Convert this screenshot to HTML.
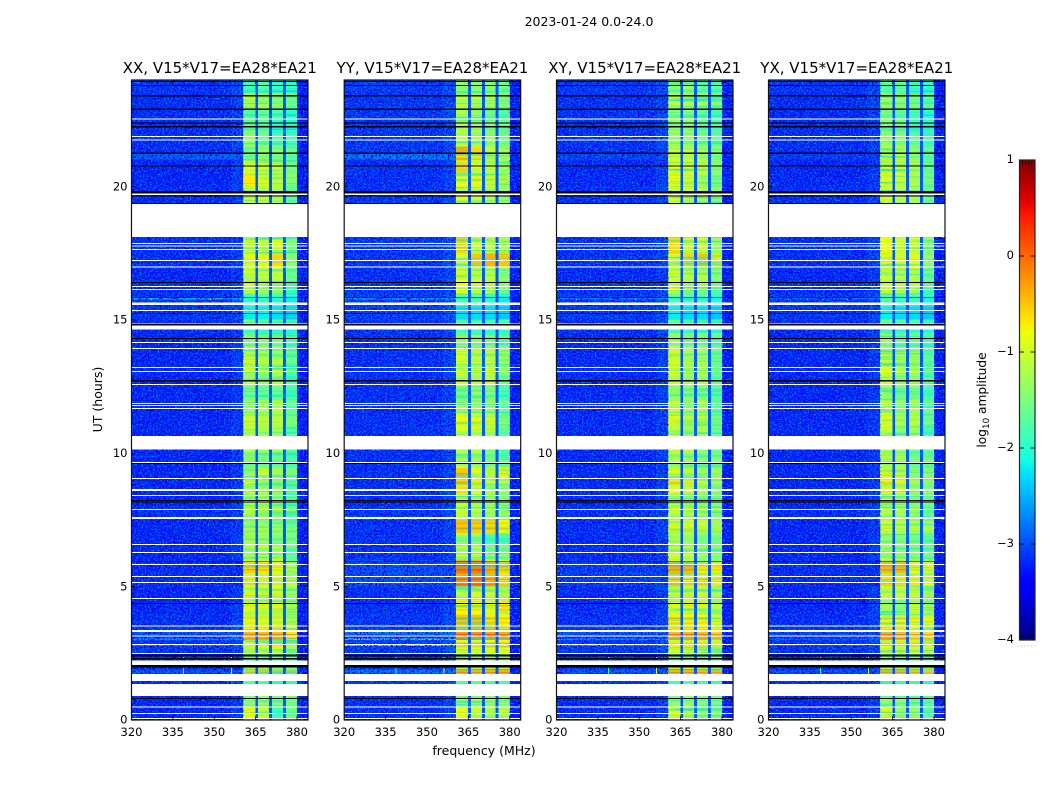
<!DOCTYPE html>
<html lang="en">
<head>
<meta charset="utf-8">
<title>Amplitude waterfall 2023-01-24</title>
<style>
html,body{margin:0;padding:0;background:#fff;width:1050px;height:800px;overflow:hidden}
svg{display:block}
text{font-family:"DejaVu Sans","Liberation Sans",sans-serif;fill:#000}
</style>
</head>
<body>
<svg id="figure" xmlns="http://www.w3.org/2000/svg" width="1050" height="800" viewBox="0 0 1050 800">
<defs>
<filter id="lightSpeck0" x="0" y="0" width="100%" height="100%" color-interpolation-filters="sRGB"><feTurbulence type="fractalNoise" baseFrequency="0.62" numOctaves="2" seed="3"/><feColorMatrix type="matrix" values="0 0 0 0 0  0 0 0 0 0.5  0 0 0 0 1  7 0 0 0 -3.85"/></filter>
<filter id="lightSpeck1" x="0" y="0" width="100%" height="100%" color-interpolation-filters="sRGB"><feTurbulence type="fractalNoise" baseFrequency="0.62" numOctaves="2" seed="11"/><feColorMatrix type="matrix" values="0 0 0 0 0  0 0 0 0 0.5  0 0 0 0 1  7 0 0 0 -3.85"/></filter>
<filter id="lightSpeck2" x="0" y="0" width="100%" height="100%" color-interpolation-filters="sRGB"><feTurbulence type="fractalNoise" baseFrequency="0.62" numOctaves="2" seed="23"/><feColorMatrix type="matrix" values="0 0 0 0 0  0 0 0 0 0.5  0 0 0 0 1  7 0 0 0 -3.85"/></filter>
<filter id="lightSpeck3" x="0" y="0" width="100%" height="100%" color-interpolation-filters="sRGB"><feTurbulence type="fractalNoise" baseFrequency="0.62" numOctaves="2" seed="37"/><feColorMatrix type="matrix" values="0 0 0 0 0  0 0 0 0 0.5  0 0 0 0 1  7 0 0 0 -3.85"/></filter>
<filter id="darkSpeck" x="0" y="0" width="100%" height="100%" color-interpolation-filters="sRGB"><feTurbulence type="fractalNoise" baseFrequency="0.58" numOctaves="2" seed="51"/><feColorMatrix type="matrix" values="0 0 0 0 0  0 0 0 0 0  0 0 0 0 0.85  7 0 0 0 -3.4"/></filter>
<filter id="bandStreak" x="0" y="0" width="100%" height="100%" color-interpolation-filters="sRGB"><feTurbulence type="fractalNoise" baseFrequency="0.012 0.42" numOctaves="2" seed="7"/><feColorMatrix type="matrix" values="0 0 0 0 0.15  0 0 0 0 0.9  0 0 0 0 0.7  2.6 0 0 0 -1.25"/></filter>
<linearGradient id="colorbarGradient" x1="0" y1="1" x2="0" y2="0"></linearGradient>
</defs>
<text x="589" y="26" font-size="12.5" text-anchor="middle">2023-01-24 0.0-24.0</text>
<text x="484" y="755" font-size="12.5" text-anchor="middle">frequency (MHz)</text>
<text x="0" y="0" font-size="12.5" text-anchor="middle" transform="translate(102,399.5) rotate(-90)">UT (hours)</text>
<text x="0" y="0" font-size="12.2" text-anchor="middle" transform="translate(986,400) rotate(-90)">log<tspan font-size="8.8" dy="3">10</tspan><tspan dy="-3"> amplitude</tspan></text>
<g id="panels"></g>
<g id="colorbar"></g>
</svg>
<script>
// ---- Chart data (log10 amplitude, UT hours, MHz) ----
const panelTitles = ["XX, V15*V17=EA28*EA21", "YY, V15*V17=EA28*EA21", "XY, V15*V17=EA28*EA21", "YX, V15*V17=EA28*EA21"];
const freqTicks = [320, 335, 350, 365, 380];
const hourTicks = [0, 5, 10, 15, 20];
const colorTicks = [1, 0, -1, -2, -3, -4];
const bandStart = [360.5, 365.9, 371, 376];
const bandEnd = [364.9, 369.9, 374.9, 380.1];
const gapLevel = -2.95;
const rightEdgeLevel = -3.25;
const rowSpan = 0.5;

// one row per half hour, from UT 0; each row holds the four spectral-window levels
const levelsXX = [
[-.8,-1.1,-1.9,-1.6],[-1.4,-1.3,-1.5,-1.5],[-1.8,-1.8,-1.9,-1.9],[-1.3,-1.3,-1.4,-1.4],[-1.5,-1.6,-1.6,-1.7],[-1.2,-1.2,-1,-1.4],
[-.5,-.5,-.5,-.7],[-.95,-1,-1,-1.3],[-.95,-1,-1,-1.3],[-1,-1.1,-.95,-1.3],[-.85,-.95,-.9,-1.2],[-.6,-.65,-.85,-1.3],
[-1.3,-1.2,-1.2,-1.7],[-1.2,-1.3,-1.5,-1.5],[-1.4,-1.3,-1.4,-1.6],[-1.1,-1.1,-1.2,-1.5],[-1.3,-1.2,-1.4,-1.7],[-1.2,-1.3,-1.3,-1.7],
[-1.4,-1.1,-1.3,-1.5],[-1.4,-1.5,-1.6,-1.8],[-1.2,-1.3,-1.3,-1.7],[-1.1,-1.2,-1.2,-1.7],[-1,-1.1,-1.1,-1.5],[-1.2,-1.1,-1.1,-1.6],
[-1.5,-1.6,-1.6,-1.8],[-1.1,-1.3,-1.2,-1.8],[-1,-1.1,-1.1,-1.6],[-1.1,-1.2,-1.3,-1.6],[-1.4,-1.4,-1.5,-1.8],[-1.9,-2,-2,-2.1],
[-2.2,-2.2,-2.3,-2.4],[-2,-1.9,-2,-2.2],[-.9,-1.1,-1.2,-1.8],[-1,-1.1,-1.1,-1.6],[-.85,-.85,-.6,-1.4],[-1.05,-1.1,-.95,-1.5],
[-1,-1.1,-1,-1.5],[-1,-1.1,-1,-1.5],[-1,-1.1,-1.2,-1.7],[-1,-1.1,-1.2,-1.7],[-.7,-.95,-1.1,-1.4],[-.9,-1,-1.1,-1.5],
[-1.5,-1.3,-1.4,-1.6],[-1.3,-1.5,-1.7,-1.8],[-1.5,-1.6,-2,-2],[-1.7,-1.6,-1.8,-2],[-1.1,-1.2,-1.3,-1.5],[-1.9,-1.8,-2,-2]];
const levelsYY = [
[-.8,-1,-1.2,-1.1],[-1.4,-1.2,-1.3,-1.4],[-1.7,-1.7,-1.8,-1.8],[-1,-1,-1,-1],[-1.3,-1.3,-1.3,-1.3],[-.9,-.9,-.8,-.8],
[-.25,-.25,-.3,-.4],[-.5,-.5,-.7,-.8],[-.75,-.8,-.9,-.7],[-1.2,-1,-1.1,-1.2],[-.2,-.15,-.35,-.7],[-.1,-.1,-.4,-.6],
[-1.2,-1.2,-1.5,-1.5],[-1.3,-1.4,-1.8,-1.8],[-.5,-.55,-.6,-.8],[-1,-1.1,-1.2,-1.3],[-1.1,-1.2,-1.2,-1.4],[-.6,-.9,-1.2,-1.3],
[-.5,-.9,-1.1,-.9],[-1.3,-1.3,-1.5,-1.7],[-1.2,-1.1,-1.4,-1.8],[-.95,-1,-1.1,-1.6],[-.8,-.85,-.95,-1.5],[-1.1,-1.1,-1.3,-1.6],
[-1.5,-1.3,-1.4,-1.8],[-1,-1.1,-.95,-1.5],[-.9,-1,-.95,-1.3],[-1,-1.1,-1.1,-1.3],[-1.3,-1.4,-1.5,-1.7],[-1.9,-1.9,-2,-2],
[-2.3,-2.3,-2.3,-2.4],[-1.8,-1.8,-2,-2.2],[-.8,-1,-1.1,-1.4],[-1,-1.1,-1.1,-1.4],[-1,-.5,-.4,-.5],[-.6,-1,-1.1,-1.2],
[-.6,-1,-1.1,-1.2],[-.9,-1,-1.1,-1.3],[-.9,-1,-1.1,-1.3],[-.9,-1,-1.1,-1.3],[-.8,-.75,-1,-1.2],[-.6,-.9,-1.1,-1.3],
[-.35,-.6,-1.1,-1.2],[-1.1,-1.2,-1.3,-1.5],[-1.1,-1.2,-1.4,-1.5],[-1.2,-1.3,-1.5,-1.7],[-1.1,-1.1,-1.2,-1.4],[-1.3,-1.3,-1.4,-1.6]];
const levelsXY = [
[-.9,-1.1,-1.3,-1.4],[-1.4,-1.3,-1.4,-1.5],[-1.8,-1.8,-1.8,-1.9],[-1,-1,-1.1,-1.1],[-1.5,-1.5,-1.5,-1.5],[-1,-1,-1,-1.1],
[-.45,-.45,-.5,-.6],[-.75,-.8,-.8,-1],[-1,-.9,-1,-1.2],[-1.2,-1.1,-1.1,-1.3],[-.6,-.75,-.7,-.85],[-.4,-.45,-.75,-.75],
[-1.1,-1.2,-1.4,-1.5],[-1.2,-1.3,-1.5,-1.5],[-1,-.95,-1.1,-1.3],[-1,-1.1,-1.2,-1.3],[-1.1,-1.2,-1.3,-1.4],[-.8,-1,-1.2,-1.4],
[-1,-1.1,-1.3,-1.3],[-1.2,-1.3,-1.4,-1.4],[-1.1,-1.1,-1.4,-1.6],[-1,-1.2,-1.1,-1.6],[-.9,-1.1,-1.1,-1.5],[-1,-1.3,-1.1,-1.6],
[-1.3,-1.4,-1.5,-1.7],[-1,-1.2,-1.1,-1.6],[-.95,-1.1,-1.1,-1.5],[-1,-1.2,-1.2,-1.5],[-1.3,-1.5,-1.5,-1.7],[-1.9,-2,-2,-2.1],
[-2.2,-2.3,-2.3,-2.4],[-1.8,-1.9,-1.9,-2.1],[-.85,-1.1,-1.1,-1.5],[-1,-1.1,-1.1,-1.4],[-.95,-.6,-.5,-.7],[-.6,-1,-1,-1.3],
[-.6,-1,-1,-1.3],[-.95,-1,-1.1,-1.4],[-.95,-1,-1.1,-1.4],[-.95,-1,-1.1,-1.4],[-.8,-.9,-1.1,-1.4],[-.9,-1,-1.1,-1.4],
[-1,-1,-1.2,-1.4],[-1.2,-1.3,-1.5,-1.6],[-1.3,-1.3,-1.6,-1.7],[-1.4,-1.4,-1.6,-1.8],[-1.1,-1.1,-1.2,-1.4],[-1.5,-1.4,-1.7,-1.8]];
const levelsYX = [
[-.9,-1.3,-1.3,-1.7],[-1.4,-1.4,-1.6,-1.7],[-1.8,-1.9,-1.9,-2],[-1.1,-1.1,-1.2,-1.3],[-1.5,-1.5,-1.6,-1.6],[-1.1,-1.1,-1,-1.1],
[-.45,-.5,-.7,-.7],[-.9,-.8,-.9,-1],[-1.3,-1.5,-1.1,-1.3],[-1.1,-1.1,-1.1,-1.3],[-.75,-.8,-.85,-1],[-.45,-.45,-.85,-.95],
[-1.2,-1.3,-1.4,-1.6],[-1.3,-1.4,-1.5,-1.6],[-1,-1.1,-1.2,-1.3],[-1.2,-1.2,-1.3,-1.6],[-1.1,-1.2,-1.4,-1.5],[-.85,-1,-1.3,-1.4],
[-1,-1.1,-1.4,-1.4],[-1.2,-1.2,-1.5,-1.5],[-1.1,-1.2,-1.6,-1.7],[-1,-1.4,-1.2,-1.8],[-.95,-1.2,-1.1,-1.6],[-1.1,-1.3,-1.2,-1.6],
[-1.3,-1.5,-1.5,-1.8],[-1,-1.3,-1.2,-1.7],[-1,-1.2,-1.2,-1.6],[-1.1,-1.2,-1.3,-1.7],[-1.3,-1.6,-1.6,-1.8],[-1.9,-2,-2,-2.1],
[-2.2,-2.3,-2.3,-2.4],[-1.7,-1.9,-1.9,-2.1],[-1,-1.1,-1.1,-1.7],[-1,-1.1,-1.1,-1.6],[-.9,-.9,-.85,-1.4],[-.85,-1,-1,-1.4],
[-.85,-1,-1,-1.4],[-1,-1.1,-1.2,-1.6],[-1,-1.1,-1.2,-1.6],[-1,-1.1,-1.2,-1.6],[-.9,-1,-1.1,-1.5],[-1,-1.1,-1.2,-1.6],
[-1.2,-1.1,-1.3,-1.6],[-1.3,-1.4,-1.6,-1.8],[-1.4,-1.5,-1.9,-1.9],[-1.5,-1.6,-1.8,-2],[-1.1,-1.2,-1.4,-1.6],[-1.7,-1.6,-1.9,-2]];
const panelLevels = [levelsXX, levelsYY, levelsXY, levelsYX];

// off-band (320-360 MHz) level per half hour, shared by the panels
const backgroundLevels = [-3.2,-3.2,-3.15,-3.15,-3.15,-3.1,-3.1,-3.15,-3.2,-3.2,-3.15,-3.15,-3.2,-3.2,-3.2,-3.15,-3.2,-3.2,-3.2,-3.2,-3.2,-3.2,-3.2,-3.2,-3.2,-3.2,-3.2,-3.2,-3.2,-3.15,-3.1,-3.1,-3.15,-3.2,-3.15,-3.15,-3.15,-3.15,-3.15,-3.15,-3.2,-3.2,-3.15,-3.15,-3.15,-3.15,-3.15,-3.1];
const panelBackgroundOffset = [0, 0.06, 0.02, 0];

// narrow time ranges where the off-band level rises (one level per panel)
const bgEventHour = [21.03, 15.78, 3.0, 2.78, 3.2, 1.75, 5.0];
const bgEventSpan = [0.19, 0.05, 0.06, 0.06, 0.15, 0.15, 1.0];
const bgEventLevels = [[-2.85,-2.7,-3,-3.05],[-2.4,-2.5,-2.7,-2.8],[-2.5,-1.8,-2.5,-2.8],[-2.6,-1.3,-2.5,-2.8],[-2.9,-2.7,-2.9,-3],[-2.9,-2.75,-2.9,-2.95],[-3.15,-2.95,-3.05,-3.15]];

// fine horizontal stripes in the four spectral windows (change of level)
const stripeHour = [1.75,1.85,2.72,2.85,3.02,3.17,3.4,3.62,3.78,3.95,4.1,4.25,4.42,4.7,4.85,5.05,5.25,5.42,5.6,5.75,5.95,6.15,6.35,6.5,6.75,6.95,7.15,7.35,7.6,7.95,8.15,8.3,8.75,8.88,9.2,9.45,9.9,10.75,11.1,11.4,11.72,12.15,12.3,12.85,13.3,13.7,14.05,14.25,14.45,14.95,15.9,16.05,16.35,16.8,20.9,21.1,21.6,21.95,22.12,22.65,22.95,23.2,23.55,23.7];
const stripeChange = [.9,.9,.3,.4,.3,.45,-.25,.2,.3,-.3,.2,.3,-.25,.25,-.25,.2,.3,-.2,.25,.25,-.3,.3,-.3,.2,-.25,.2,.25,.2,-.25,-.25,.1,-.25,-.25,.3,.25,-.25,-.3,-.25,.2,-.25,-.25,-.3,-.25,-.25,-.25,-.3,-.25,-.3,.3,.5,.3,-.25,-.25,.1,-.25,-.3,-.25,-.25,-.3,-.3,.2,-.25,-.3,.3];
const stripeSpan = 0.06;

// narrow-band interference spikes
const spikeFreq = [338.6, 338.6, 356, 356, 334, 348.5, 339.5, 327];
const spikeHour = [1.7, 2.29, 1.7, 2.29, 15.75, 15.75, 15.75, 15.75];
const spikeSpan = [0.25, 0.08, 0.25, 0.08, 0.035, 0.035, 0.035, 0.035];
const spikeLevel = [-1.9, -1.6, -1.1, -1.2, -0.2, -0.8, -1.6, -1.7];

// flagged time ranges: lower edge in UT hours, and duration
const whiteFlagHour = [22.526,21.855,21.728,19.695,18.11,17.85,17.764,17.625,17.21,16.976,16.241,16.129,15.5625,15.3375,14.839,14.636,14.1375,13.9125,13.2,13.05,12.5625,11.85,11.783,11.6625,10.151,9.6375,9.0375,8.5875,8.4,7.875,7.5375,6.5625,6.2625,5.8125,5.3625,5.1375,4.5375,3.506,3.3,3.139,2.8125,2.475,2.0625,1.4625,0.9,0.476,0.225,0.0375];
const whiteFlagSpan = [.0375,.0375,.0375,.045,1.2375,.0375,.0375,.0375,.0375,.0375,.0375,.0375,.086,.0375,.0375,.15,.0375,.0375,.0375,.0375,.0375,.0375,.0375,.0375,.499,.0375,.0375,.075,.0375,.0375,.075,.0375,.0375,.0375,.0375,.0375,.0375,.0375,.075,.0375,.0375,.0375,.16,.2625,.45,.0375,.0375,.0375];
const blackFlagHour = [23.925,23.78,23.38,22.875,22.37,22.22,21.225,20.76,19.736,19.63,19.35,16.39,15.82,15.24,14.786,14.29,12.69,9.6,8.21,8.156,5.925,4.35,2.374,2.26,1.96,0.7875];
const blackFlagSpan = [.0375,.03,.056,.064,.0375,.056,.056,.03,.094,.0375,.0375,.0375,.026,.026,.056,.0375,.056,.0375,.0375,.0375,.026,.0375,.09,.064,.1,.0375];

// ---- Axis geometry ----
const panelLeft = [131.5, 344.2, 556.5, 768.5];
const panelWidth = 176.5;
const plotTop = 80;
const plotBottom = 720;
const freqMin = 320, freqMax = 384;
const hourMin = 0, hourMax = 24;
const NS = "http://www.w3.org/2000/svg";

function xScale(panel, f) { return panelLeft[panel] + (f - freqMin) / (freqMax - freqMin) * panelWidth; }
function yScale(h) { return plotBottom - (h - hourMin) / (hourMax - hourMin) * (plotBottom - plotTop); }

function clamp01(v) { return Math.max(0, Math.min(1, v)); }
function lerpSeg(t, pts) {
  for (let i = 1; i < pts.length; i++) {
    if (t <= pts[i][0]) {
      const a = pts[i - 1], b = pts[i];
      return a[1] + (b[1] - a[1]) * (t - a[0]) / (b[0] - a[0]);
    }
  }
  return pts[pts.length - 1][1];
}
function colorScale(level) {
  const t = clamp01((level + 4) / 5);
  const r = lerpSeg(t, [[0,0],[.35,0],[.66,1],[.89,1],[1,.5]]);
  const g = lerpSeg(t, [[0,0],[.125,0],[.375,1],[.64,1],[.91,0],[1,0]]);
  const b = lerpSeg(t, [[0,.5],[.11,1],[.34,1],[.65,0],[1,0]]);
  return "rgb(" + Math.round(r * 255) + "," + Math.round(g * 255) + "," + Math.round(b * 255) + ")";
}
function mk(tag, attrs, parent) {
  const el = document.createElementNS(NS, tag);
  for (const k in attrs) el.setAttribute(k, attrs[k]);
  parent.appendChild(el);
  return el;
}

const panelsRoot = document.getElementById("panels");
const panelKeys = ["xx", "yy", "xy", "yx"];

function drawCell(group, panel, f0, f1, h0, h1, level) {
  const x0 = xScale(panel, f0), x1 = xScale(panel, f1);
  const y0 = yScale(h1), y1 = yScale(h0);
  const el = mk("rect", { x: x0.toFixed(2), y: y0.toFixed(2), width: (x1 - x0).toFixed(2), height: (y1 - y0 + 0.05).toFixed(2), fill: colorScale(level) }, group);
  
  
  return el;
}

panelTitles.forEach(function (title, p) {
  const g = mk("g", {}, panelsRoot);
  
  

  const heat = mk("g", { "shape-rendering": "crispEdges" }, g);
  
  

  const rows = panelLevels[p];
  rows.forEach(function (row, i) {
    const h0 = i * rowSpan, h1 = h0 + rowSpan;
    const bg = backgroundLevels[i] + panelBackgroundOffset[p];
    drawCell(heat, p, freqMin, 356, h0, h1, bg);
    drawCell(heat, p, 356, bandStart[0], h0, h1, bg + 0.14);
    row.forEach(function (level, b) {
      drawCell(heat, p, bandStart[b], bandEnd[b], h0, h1, level);
      if (b < 3) drawCell(heat, p, bandEnd[b], bandStart[b + 1], h0, h1, gapLevel);
    });
    drawCell(heat, p, bandEnd[3], freqMax, h0, h1, rightEdgeLevel);
  });

  bgEventHour.forEach(function (h, e) {
    drawCell(heat, p, freqMin, bandStart[0], h, h + bgEventSpan[e], bgEventLevels[e][p]);
  });

  stripeHour.forEach(function (h, s) {
    const row = rows[Math.min(rows.length - 1, Math.floor(h / rowSpan))];
    row.forEach(function (level, b) {
      drawCell(heat, p, bandStart[b], bandEnd[b], h, h + stripeSpan, level + stripeChange[s]);
    });
  });

  // speckle overlays on the off-band regions, streaks inside each spectral window
  const bx0 = xScale(p, freqMin), bx1 = xScale(p, bandStart[0]), rx0 = xScale(p, bandEnd[3]), rx1 = xScale(p, freqMax);
  const tex = mk("g", {}, g);
  
  
  mk("rect", { x: bx0, y: plotTop, width: bx1 - bx0, height: plotBottom - plotTop, fill: "#000", filter: "url(#darkSpeck)" }, tex);
  mk("rect", { x: rx0, y: plotTop, width: rx1 - rx0, height: plotBottom - plotTop, fill: "#000", filter: "url(#darkSpeck)" }, tex);
  mk("rect", { x: bx0, y: plotTop, width: bx1 - bx0, height: plotBottom - plotTop, fill: "#000", filter: "url(#lightSpeck" + p + ")" }, tex);
  mk("rect", { x: rx0, y: plotTop, width: rx1 - rx0, height: plotBottom - plotTop, fill: "#000", filter: "url(#lightSpeck" + p + ")" }, tex);
  bandStart.forEach(function (f, b) {
    const x0 = xScale(p, f), x1 = xScale(p, bandEnd[b]);
    mk("rect", { x: x0, y: plotTop, width: x1 - x0, height: plotBottom - plotTop, fill: "#000", filter: "url(#bandStreak)" }, tex);
  });

  const spikes = mk("g", { "shape-rendering": "crispEdges" }, g);
  
  
  spikeFreq.forEach(function (f, s) {
    drawCell(spikes, p, f, f + 0.4, spikeHour[s], spikeHour[s] + spikeSpan[s], spikeLevel[s]);
  });

  // flagged rows
  const flags = mk("g", { "shape-rendering": "crispEdges" }, g);
  
  
  whiteFlagHour.forEach(function (h, i) {
    const r = mk("rect", { x: bx0, y: yScale(h + whiteFlagSpan[i]).toFixed(2), width: panelWidth, height: (yScale(h) - yScale(h + whiteFlagSpan[i])).toFixed(2), fill: "#fff" }, flags);
    
    
  });
  blackFlagHour.forEach(function (h, i) {
    const r = mk("rect", { x: bx0, y: yScale(h + blackFlagSpan[i]).toFixed(2), width: panelWidth, height: (yScale(h) - yScale(h + blackFlagSpan[i])).toFixed(2), fill: "#000" }, flags);
    
    
  });

  // frame
  const frame = mk("rect", { x: bx0, y: plotTop, width: panelWidth, height: plotBottom - plotTop, fill: "none", stroke: "#111", "stroke-width": 1.2 }, g);
  
  

  // x ticks
  freqTicks.forEach(function (f, i) {
    const x = xScale(p, f);
    if (i > 0) {
      const t1 = mk("line", { x1: x, x2: x, y1: plotBottom, y2: plotBottom - 4, stroke: "#000", "stroke-width": 0.8 }, g);
      
      
      const t2 = mk("line", { x1: x, x2: x, y1: plotTop, y2: plotTop + 4, stroke: "#000", "stroke-width": 0.8 }, g);
      
      
    }
    const lab = mk("text", { x: x, y: 736, "font-size": 11.5, "text-anchor": "middle" }, g);
    lab.textContent = String(f);
    
    
  });

  // y ticks
  hourTicks.forEach(function (h) {
    const y = yScale(h);
    const t1 = mk("line", { x1: bx0, x2: bx0 + 4, y1: y, y2: y, stroke: "#000", "stroke-width": 0.8 }, g);
    
    
    const t2 = mk("line", { x1: bx0 + panelWidth, x2: bx0 + panelWidth - 4, y1: y, y2: y, stroke: "#000", "stroke-width": 0.8 }, g);
    
    
    const lab = mk("text", { x: bx0 - 4, y: y + 3.6, "font-size": 11.5, "text-anchor": "end" }, g);
    lab.textContent = String(h);
    
    
  });

  const tt = mk("text", { x: bx0 + panelWidth / 2, y: 73, "font-size": 15, "text-anchor": "middle" }, g);
  tt.textContent = title;
  
  
});

// ---- Colorbar ----
const cbRoot = document.getElementById("colorbar");
const cbLeft = 1019.5, cbRight = 1035, cbTop = 160, cbBottom = 640;
const cbMin = -4, cbMax = 1;
const cbMinorValues = [0.99, -3.99];
function cbScale(v) { return cbBottom - (v - cbMin) / (cbMax - cbMin) * (cbBottom - cbTop); }

const gradient = document.getElementById("colorbarGradient");
for (let s = 0; s <= 50; s++) {
  const st = document.createElementNS(NS, "stop");
  st.setAttribute("offset", (s / 50 * 100) + "%");
  st.setAttribute("stop-color", colorScale(cbMin + (cbMax - cbMin) * s / 50));
  gradient.appendChild(st);
}
const cbBar = mk("rect", { x: cbLeft, y: cbTop, width: cbRight - cbLeft, height: cbBottom - cbTop, fill: "url(#colorbarGradient)", stroke: "#222", "stroke-width": 1.2 }, cbRoot);



colorTicks.forEach(function (v) {
  const y = cbScale(v);
  const lab = mk("text", { x: 1014, y: y + 3.2, "font-size": 11.5, "text-anchor": "end" }, cbRoot);
  lab.textContent = v < 0 ? "\u2212" + Math.abs(v) : String(v);
  
  
  if (v !== cbMax && v !== cbMin) {
    const a = mk("line", { x1: cbLeft, x2: cbLeft + 4.5, y1: y, y2: y, stroke: "#000", "stroke-width": 0.9 }, cbRoot);
    
    
    const b = mk("line", { x1: cbRight, x2: cbRight - 4.5, y1: y, y2: y, stroke: "#000", "stroke-width": 0.9 }, cbRoot);
    
    
  }
});
cbMinorValues.forEach(function (v) {
  const y0 = cbScale(v);
  const dir = v > 0 ? 1 : -1;
  for (let k = 1; k <= 4; k++) {
    const x = cbLeft + k * (cbRight - cbLeft) / 5;
    const m = mk("line", { x1: x, x2: x, y1: y0, y2: y0 + dir * 4.5, stroke: "#000", "stroke-width": 0.7 }, cbRoot);
    
    
  }
});
for (let k = 0; k < 6; k++) {
  const d = mk("rect", { x: 1017.5 + k * 3.4, y: 645.5, width: 1, height: 1, fill: "#bbb" }, cbRoot);
  
  
}
</script>
</body>
</html>
